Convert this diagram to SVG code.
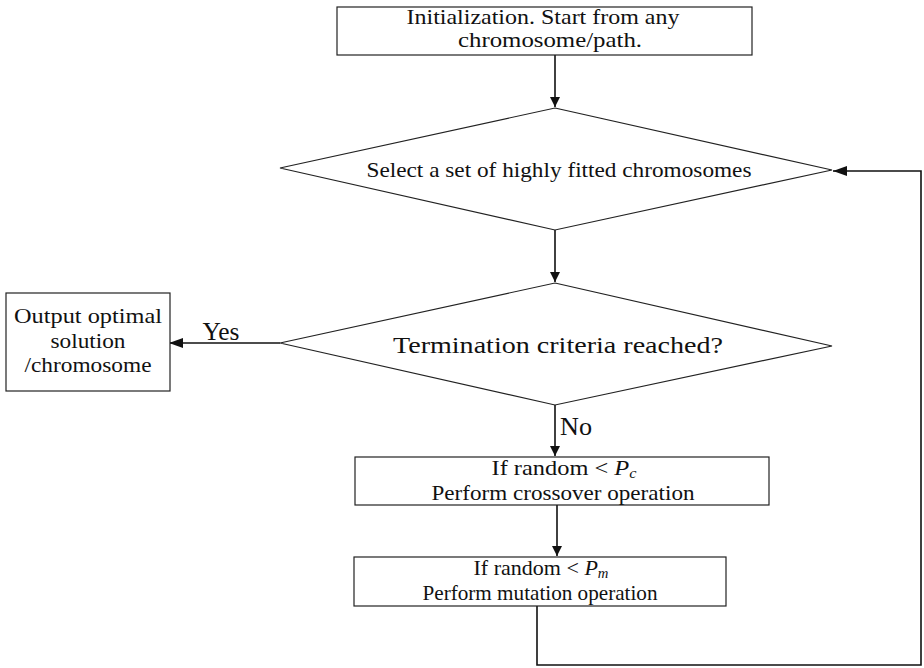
<svg xmlns="http://www.w3.org/2000/svg" width="924" height="668" viewBox="0 0 924 668">
<style>
.box{fill:#fff;stroke:#222;stroke-width:1.2}
.t{font-family:'Liberation Serif','DejaVu Serif',serif;fill:#111;text-anchor:middle}
.c{fill:none;stroke:#111;stroke-width:1.6}
</style>
<defs>
<marker id="ah" viewBox="0 0 10 10" refX="10" refY="5" markerWidth="10" markerHeight="10" markerUnits="userSpaceOnUse" orient="auto">
<path d="M0,0 L10,5 L0,10 z" fill="#111"/>
</marker>
<marker id="ahw" viewBox="0 0 14 10" refX="14" refY="5" markerWidth="14" markerHeight="10" markerUnits="userSpaceOnUse" orient="auto">
<path d="M0,0 L14,5 L0,10 z" fill="#111"/>
</marker>
</defs>
<rect width="924" height="668" fill="#fff"/>
<g id="connectors">
<path class="c" d="M555,55 V107" marker-end="url(#ah)"/>
<path class="c" d="M555,230 V282" marker-end="url(#ah)"/>
<path class="c" d="M280,343 H169" marker-end="url(#ahw)"/>
<path class="c" d="M555,405 V456" marker-end="url(#ah)"/>
<path class="c" d="M557,505 V556" marker-end="url(#ah)"/>
<path class="c" d="M537,606 V665 H921 V171 H833" marker-end="url(#ahw)"/>
<text class="t" x="221" y="340" font-size="25" textLength="37" lengthAdjust="spacingAndGlyphs">Yes</text>
<text class="t" x="576" y="435" font-size="25" textLength="32" lengthAdjust="spacingAndGlyphs">No</text>
</g>
<g id="init">
<rect class="box" x="337" y="7" width="415" height="48"/>
<text class="t" x="543" y="24" font-size="21" textLength="273" lengthAdjust="spacingAndGlyphs">Initialization. Start from any</text>
<text class="t" x="550" y="47" font-size="21" textLength="184" lengthAdjust="spacingAndGlyphs">chromosome/path.</text>
</g>
<g id="select">
<polygon class="box" points="555,108 832,170 555,230 280,168"/>
<text class="t" x="559" y="177" font-size="21" textLength="385" lengthAdjust="spacingAndGlyphs">Select a set of highly fitted chromosomes</text>
</g>
<g id="termination">
<polygon class="box" points="555,283 832,346 555,405 280,343"/>
<text class="t" x="558" y="353" font-size="24" textLength="330" lengthAdjust="spacingAndGlyphs">Termination criteria reached?</text>
</g>
<g id="output">
<rect class="box" x="6" y="293" width="164" height="98"/>
<text class="t" x="88" y="323" font-size="21" textLength="148" lengthAdjust="spacingAndGlyphs">Output optimal</text>
<text class="t" x="88" y="348" font-size="21" textLength="75" lengthAdjust="spacingAndGlyphs">solution</text>
<text class="t" x="88" y="372" font-size="21" textLength="127" lengthAdjust="spacingAndGlyphs">/chromosome</text>
</g>
<g id="crossover">
<rect class="box" x="355" y="457" width="414" height="48"/>
<text class="t" x="564" y="475" font-size="21" textLength="145" lengthAdjust="spacingAndGlyphs">If random &lt; <tspan font-style="italic">P</tspan><tspan font-style="italic" font-size="14" dy="3">c</tspan></text>
<text class="t" x="563" y="500" font-size="21" textLength="263" lengthAdjust="spacingAndGlyphs">Perform crossover operation</text>
</g>
<g id="mutation">
<rect class="box" x="354" y="557" width="372" height="49"/>
<text class="t" x="541" y="575" font-size="21" textLength="135" lengthAdjust="spacingAndGlyphs">If random &lt; <tspan font-style="italic">P</tspan><tspan font-style="italic" font-size="14" dy="3">m</tspan></text>
<text class="t" x="540" y="600" font-size="21" textLength="235" lengthAdjust="spacingAndGlyphs">Perform mutation operation</text>
</g>
</svg>
